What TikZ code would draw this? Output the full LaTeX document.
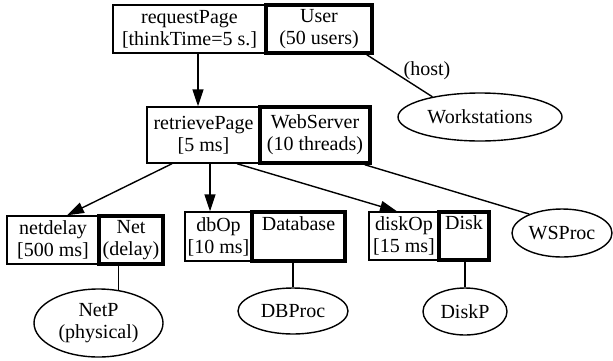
\documentclass[tikz,border=0pt]{standalone}
\usepackage{fontspec}
\setmainfont{Liberation Serif}
\usetikzlibrary{shapes.geometric,arrows.meta}
\begin{document}
\begin{tikzpicture}[x=1pt,y=-1pt,
  every node/.style={font=\fontsize{20}{22}\selectfont},
  thinbox/.style={draw, line width=1.4pt, rectangle, inner sep=0pt, align=center},
  thickbox/.style={draw, line width=3.4pt, rectangle, inner sep=0pt, align=center},
  proc/.style={draw, ellipse, line width=1.4pt, inner sep=0pt, align=center},
  arr/.style={line width=1.4pt, -{Triangle[length=17pt,width=11pt]}},
  conn/.style={line width=1.4pt}]
\useasboundingbox (0,0) rectangle (613,360);

% boxes
\node[thinbox, minimum width=153pt, minimum height=48pt] (reqp) at (189.5,29) {requestPage\\{[thinkTime=5 s.]}};
\node[thickbox, minimum width=106pt, minimum height=48pt] (user) at (319,29) {User\\(50 users)};
\node[thinbox, minimum width=113pt, minimum height=56pt] (retp) at (203.5,135) {retrievePage\\{[5 ms]}};
\node[thickbox, minimum width=110pt, minimum height=56pt] (websrv) at (315,135) {WebServer\\(10 threads)};
\node[thinbox, minimum width=92pt, minimum height=48pt] (netd) at (53,240) {netdelay\\{[500 ms]}};
\node[thickbox, minimum width=64pt, minimum height=48pt] (net) at (131,240) {Net\\(delay)};
\node[thinbox, minimum width=67pt, minimum height=49pt] (dbop) at (218.5,236.5) {dbOp\\{[10 ms]}};
\node[thickbox, minimum width=93pt, minimum height=49pt] (db) at (298.5,236.5) {Database\\\phantom{(}};
\node[thinbox, minimum width=70pt, minimum height=48pt] (diskop) at (404,236) {diskOp\\{[15 ms]}};
\node[thickbox, minimum width=50pt, minimum height=48pt] (disk) at (464,236) {Disk\\\phantom{(}};

% ellipses
\node[proc, minimum width=164pt, minimum height=48pt] (ws) at (480,117) {Workstations};
\node[proc, minimum width=100pt, minimum height=48pt] (wsp) at (562,233) {WSProc};
\node[proc, minimum width=129pt, minimum height=68pt] (netp) at (98.5,323) {NetP\\(physical)};
\node[proc, minimum width=110pt, minimum height=46pt] (dbp) at (293,311) {DBProc};
\node[proc, minimum width=84pt, minimum height=47pt] (diskp) at (465,311.5) {DiskP};

% arrows
\draw[arr] ([xshift=8.5pt]reqp.south) -- ([xshift=8.5pt]reqp.south |- retp.north);
\draw[arr] ([xshift=-31.5pt]retp.south) -- ([xshift=14pt]netd.north);
\draw[arr] ([xshift=6.5pt]retp.south) -- ([xshift=6.5pt]retp.south |- dbop.north);
\draw[arr] ([xshift=33.5pt]retp.south) -- ([xshift=-7pt]diskop.north);

% connectors
\draw[conn] ([xshift=-7pt]user.south east) -- (ws.157);
\node (host) at (427,71) {(host)};
\draw[conn] ([xshift=-7pt]websrv.south east) -- (wsp.150);
\draw[conn] (net.south -| netp.59) -- (netp.59);
\draw[conn] (db.south -| dbp.north) -- (dbp.north);
\draw[conn] (disk.south -| diskp.north) -- (diskp.north);
\end{tikzpicture}
\end{document}
